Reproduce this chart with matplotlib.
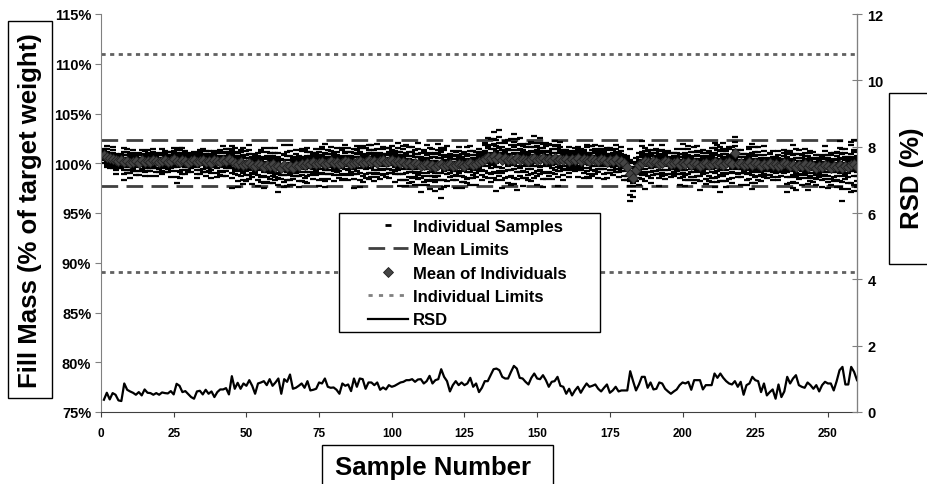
import numpy as np
import matplotlib
matplotlib.use("Agg")
import matplotlib.pyplot as plt
from matplotlib.lines import Line2D
from matplotlib.patches import Rectangle

plt.rcParams['font.family'] = ['Liberation Sans', 'DejaVu Sans']
plt.rcParams['font.weight'] = 'bold'
plt.rcParams['lines.scale_dashes'] = False

# limiti (% del peso target)
IND_LIMITS = [111.0, 89.1]
MEAN_LIMITS = [102.3, 97.7]

# media dei campioni individuali, campioni 1..260
mean_vals = [
    100.8, 100.6, 100.5, 100.4, 100.3,
    100.2, 100.3, 100.1, 100.2, 100.0, 100.1, 100.2, 100.0, 100.3, 100.1, 100.2, 100.1, 100.3, 100.2, 100.1,
    100.2, 100.3, 100.1, 100.2, 100.4, 100.2, 100.1, 100.3, 100.2, 100.0, 100.2, 100.3, 100.1, 100.2, 100.3, 100.1, 100.2, 100.0, 100.3, 100.2,
    100.1, 100.3, 100.2, 100.4, 100.2, 100.0, 99.9, 100.1, 99.8, 99.9, 100.0, 99.8, 99.7, 99.9, 99.8, 99.6, 99.8, 99.7, 99.9, 99.6,
    99.7, 99.5, 99.8, 99.6, 99.7, 99.5, 99.8, 99.7, 99.9, 99.8, 100.0, 99.9, 100.1, 99.9, 100.0, 100.1, 99.9, 100.0, 100.2, 100.0,
    100.1, 99.9, 100.0, 100.2, 100.1, 99.9, 100.0, 100.1, 100.2, 100.0, 100.1, 100.3, 100.1, 100.2, 100.0, 100.2, 100.3, 100.1, 100.2, 100.3,
    100.1, 100.2, 100.0, 100.1, 99.9, 100.0, 99.8, 100.0, 99.9, 99.7, 99.8, 99.9, 99.7, 99.8, 99.6, 99.8, 99.9, 99.7, 99.8, 99.9,
    99.7, 99.8, 99.9, 99.8, 99.7, 99.9, 100.0, 99.8, 99.9, 100.1, 100.2, 100.4, 100.6, 100.5, 100.7,
    100.4, 100.6, 100.3, 100.5, 100.3, 100.4, 100.3, 100.5, 100.3, 100.4, 100.3, 100.2, 100.4, 100.5, 100.3,
    100.4, 100.5, 100.3, 100.4, 100.3, 100.5, 100.3, 100.4, 100.3, 100.4, 100.2, 100.4, 100.3, 100.5, 100.2, 100.4, 100.3, 100.2, 100.4, 100.3,
    100.2, 100.4, 100.3, 100.1, 100.3, 100.2, 100.4, 100.1, 100.2, 100.0,
    99.6, 98.9, 98.5, 99.3, 99.8, 100.0, 100.2, 100.1, 100.0, 100.2,
    100.1, 99.9, 100.0, 100.2, 100.1, 99.9, 100.0, 100.1, 99.8, 100.0, 99.9, 100.1, 99.8, 100.0, 99.9, 99.7, 99.9, 100.0, 99.8, 99.9,
    100.1, 99.9, 100.0, 99.8, 100.0, 100.1, 99.9, 101.0, 99.9, 100.0, 99.8, 99.9, 100.1, 99.8, 100.0, 99.9, 99.7, 99.9, 99.8, 100.0,
    99.8, 99.9, 99.7, 99.8, 100.0, 99.9, 99.7, 99.8, 99.6, 99.8, 99.7, 99.9, 99.6, 99.8, 99.7, 99.5, 99.7, 99.6, 99.8, 99.7,
    99.5, 99.7, 99.6, 99.8, 99.5, 99.7, 99.6, 99.8, 99.9, 99.6,
]

# RSD (%) per campione, 1..260
rsd_vals = [
    .37, .58, .38, .57, .52, .35, .33, .86, .67, .62,
    .58, .52, .60, .50, .68, .58, .57, .52, .57, .52,
    .59, .57, .56, .63, .53, .85, .79, .60, .63, .54,
    .45, .40, .62, .64, .53, .67, .55, .62, .45, .60,
    .68, .68, .72, .53, 1.08, .70, .88, .70, .86, .79,
    .96, .79, .55, .86, .89, .93, .81, .99, .79, .89,
    1.01, .55, .99, .91, 1.13, .70, .73, .79, .86, .73,
    .93, .65, .67, .70, .89, .86, 1.01, .76, .73, .74,
    .67, .55, .86, .79, .83, .63, 1.01, .76, 1.01, .99,
    .70, .89, .89, .81, .89, .67, .74, .68, .81, .76,
    .79, .84, .89, .91, .96, .96, .99, .91, .98, .99,
    .86, .93, 1.09, .86, .96, .99, 1.29, 1.06, .93, .62,
    .81, .93, .81, .89, .81, .86, 1.03, .76, .86, .60,
    .73, .93, .93, 1.11, 1.29, 1.31, 1.26, 1.06, 1.01, 1.01,
    1.21, 1.39, 1.31, 1.03, 1.01, .91, .83, 1.03, 1.16, 1.01,
    .99, 1.11, .96, .76, .91, .93, 1.06, .79, .76, .55,
    .70, .50, .65, .76, .58, .73, .86, .76, .79, .83,
    .70, .62, .73, .83, .58, .65, .76, .62, .65, .65,
    .65, 1.23, .93, .65, .83, 1.06, 1.06, .73, .89, .68,
    .70, .89, .86, .70, .62, .55, .62, .68, .81, .89,
    .86, .91, .67, .96, .96, .96, .68, .81, .81, .81,
    1.16, 1.03, 1.16, 1.03, .93, .86, .83, .93, .76, .91,
    .52, .81, .86, 1.06, .96, .93, .60, .86, .50, .60,
    .68, .40, .83, .45, .62, 1.06, .86, 1.01, 1.11, .81,
    .76, .73, .89, .81, .70, .81, .62, .81, .91, .86,
    .86, .65, .93, 1.26, 1.36, .83, .83, 1.36, 1.21, .96,
]

# scostamenti dei campioni individuali (in unita' di deviazione standard)
z_patterns = [
    [-2.1, -1.4, -0.9, -0.5, -0.2, 0.1, 0.4, 0.8, 1.2, 1.7],
    [-1.7, -1.25, -0.65, -0.35, 0.05, 0.25, 0.55, 0.95, 1.35, 1.9],
    [-2.45, -1.55, -1.05, -0.6, -0.3, 0.0, 0.3, 0.65, 1.05, 1.45],
    [-1.5, -1.1, -0.8, -0.15, 0.15, 0.35, 0.75, 1.1, 1.6, 2.15],
    [-2.6, -1.9, -1.2, -0.7, -0.1, 0.2, 0.45, 0.7, 0.95, 1.3],
    [-1.95, -1.3, -0.45, -0.25, 0.1, 0.4, 0.6, 0.85, 1.5, 1.75],
    [-2.25, -1.7, -0.95, -0.55, -0.4, 0.15, 0.5, 1.0, 1.15, 2.05],
]

samples = np.arange(1, len(mean_vals) + 1)
mean_arr = np.array(mean_vals)
rsd_arr = np.array(rsd_vals)

ind_x = []
ind_y = []
for i, s in enumerate(samples):
    for z in z_patterns[i % len(z_patterns)]:
        ind_x.append(s)
        ind_y.append(mean_arr[i] * (1 + z * rsd_arr[i] / 100))

fig = plt.figure(figsize=(9.28, 4.85), dpi=100)
ax = fig.add_axes([101 / 928, 1 - 413 / 485, 756 / 928, 398 / 485])
ax2 = ax.twinx()

# limiti individuali
for v in IND_LIMITS:
    ax.plot([0, 260], [v, v], color='#606060', lw=2, dashes=(3, 3.2))
# limiti della media
for v in MEAN_LIMITS:
    ax.plot([0, 260], [v, v], color='#404040', lw=2, dashes=(12, 6))

ax.plot(ind_x, ind_y, ls='none', marker='_', ms=4, mew=1.6, color='black')
ax.plot(samples, mean_arr, ls='none', marker='D', ms=5.5, mfc='#454545', mec='#202020', mew=0.6)

ax2.plot(samples, rsd_arr, color='black', lw=1.6)

ax.set_xlim(0, 260)
ax.set_ylim(75, 115)
ax.set_yticks(np.arange(75, 116, 5))
ax.set_yticklabels([f"{v}%" for v in range(75, 116, 5)])
ax.set_xticks(np.arange(0, 251, 25))
ax2.set_ylim(0, 12)
ax2.set_yticks(np.arange(0, 13, 2))

for a in (ax, ax2):
    a.spines['top'].set_visible(False)
ax.spines['left'].set_color('#808080')
ax.spines['bottom'].set_color('#404040')
ax2.spines['right'].set_color('#808080')
ax2.spines['left'].set_visible(False)
ax2.spines['bottom'].set_visible(False)

ax.tick_params(axis='y', direction='out', length=4, color='#808080', labelsize=10.5, pad=3)
ax.tick_params(axis='x', direction='out', length=3.5, color='#404040', labelsize=8.5, pad=7)
ax2.tick_params(axis='y', direction='inout', length=7, color='#808080', labelsize=10.5, pad=4)

# riquadri delle etichette
def riquadro(x0, y0, x1, y1, z=2):
    fig.patches.append(Rectangle((x0 / 928, 1 - y1 / 485), (x1 - x0) / 928, (y1 - y0) / 485,
                                 transform=fig.transFigure, fc='white', ec='black', lw=1, zorder=z))

riquadro(8, 22, 52, 399)
riquadro(889, 94, 940, 265)
riquadro(322, 446, 553, 500)

fig.text(30 / 928, 1 - 211 / 485, "Fill Mass (% of target weight)", rotation=90,
         ha='center', va='center', fontsize=18.5, fontweight='bold', zorder=3)
fig.text(912 / 928, 1 - 178 / 485, "RSD (%)", rotation=90,
         ha='center', va='center', fontsize=18.5, fontweight='bold', zorder=3)
fig.text(433 / 928, 1 - 468 / 485, "Sample Number",
         ha='center', va='center', fontsize=18.5, fontweight='bold', zorder=3)

# legenda
riquadro(339, 214, 600, 333)
handles = [
    Line2D([], [], ls='none', marker='_', ms=5, mew=2, color='black'),
    Line2D([], [], color='#404040', lw=2, dashes=(12, 6)),
    Line2D([], [], ls='none', marker='D', ms=5, mfc='#454545', mec='#202020', mew=0.6),
    Line2D([], [], color='#808080', lw=2, dashes=(3, 4.5)),
    Line2D([], [], color='black', lw=1.6),
]
labels = ["Individual Samples", "Mean Limits", "Mean of Individuals", "Individual Limits", "RSD"]
leg = fig.legend(handles, labels, loc='upper left', bbox_to_anchor=(368 / 928, 1 - 220 / 485),
                 frameon=False, borderpad=0, borderaxespad=0, handlelength=2.4,
                 handletextpad=0.3, labelspacing=0.5, prop={'size': 12, 'weight': 'bold'})
leg.set_zorder(3)

fig.savefig("out.png", dpi=100)
